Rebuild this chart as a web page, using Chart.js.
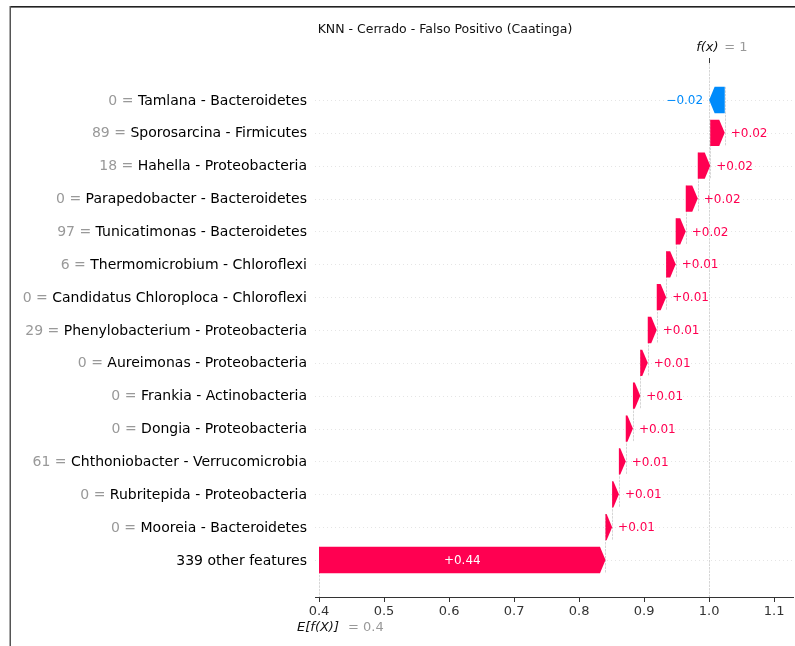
<!DOCTYPE html>
<html>
<head>
<meta charset="utf-8">
<title>KNN - Cerrado - Falso Positivo (Caatinga)</title>
<script src="https://cdn.jsdelivr.net/npm/chart.js@4/dist/chart.umd.min.js"></script>
<style>
  html, body { margin: 0; padding: 0; background: #ffffff; }
  #wrap { width: 795px; height: 646px; position: relative; }
</style>
</head>
<body>
<div id="wrap"><canvas id="c" width="795" height="646"></canvas></div>
<script>
// ---- data ----
const chartTitle = "KNN - Cerrado - Falso Positivo (Caatinga)";
const featureNames = [
  "Tamlana - Bacteroidetes",
  "Sporosarcina - Firmicutes",
  "Hahella - Proteobacteria",
  "Parapedobacter - Bacteroidetes",
  "Tunicatimonas - Bacteroidetes",
  "Thermomicrobium - Chloroflexi",
  "Candidatus Chloroploca - Chloroflexi",
  "Phenylobacterium - Proteobacteria",
  "Aureimonas - Proteobacteria",
  "Frankia - Actinobacteria",
  "Dongia - Proteobacteria",
  "Chthoniobacter - Verrucomicrobia",
  "Rubritepida - Proteobacteria",
  "Mooreia - Bacteroidetes"
];
const featureValues = ["0", "89", "18", "0", "97", "6", "0", "29", "0", "0", "0", "61", "0", "0"];
const shapValues = [-0.024, 0.0223, 0.0192, 0.0185, 0.0154, 0.0147, 0.0145, 0.0138, 0.0115, 0.0113, 0.0110, 0.0106, 0.0104, 0.0102];
const otherLabel = "339 other features";
const otherValue = 0.4406;
const baseValue = 0.4;
const outputValue = 1;
const xTickValues = [0.4, 0.5, 0.6, 0.7, 0.8, 0.9, 1.0, 1.1];

// ---- styling ----
const RED = "#ff0051";
const BLUE = "#008bfb";
const FONT = "'DejaVu Sans', 'Liberation Sans', sans-serif";

// ---- build waterfall rows (top to bottom); the "other" row sits at the bottom ----
const rows = [];
let running = baseValue + otherValue;
const featureRows = [];
for (let i = featureNames.length - 1; i >= 0; i--) {
  const start = running;
  const end = running + shapValues[i];
  featureRows[i] = { name: featureNames[i], fval: featureValues[i], value: shapValues[i], start, end };
  running = end;
}
featureRows.forEach(r => rows.push(r));
rows.push({ name: otherLabel, fval: null, value: otherValue, start: baseValue, end: baseValue + otherValue, other: true });

function fmt(v) {
  return (v >= 0 ? "+" : "\u2212") + Math.abs(v).toFixed(2);
}

function arrowPath(ctx, x0, x1, yc, h, hl) {
  const dir = x1 >= x0 ? 1 : -1;
  const head = Math.min(Math.abs(x1 - x0), hl);
  const neck = x1 - dir * head;
  ctx.beginPath();
  ctx.moveTo(x0, yc - h / 2);
  ctx.lineTo(neck, yc - h / 2);
  ctx.lineTo(x1, yc);
  ctx.lineTo(neck, yc + h / 2);
  ctx.lineTo(x0, yc + h / 2);
  ctx.closePath();
}

const waterfallPlugin = {
  id: "waterfall",
  beforeDatasetsDraw(chart) {
    const { ctx, chartArea: ca, scales } = chart;
    const xs = scales.x, ys = scales.y;
    const els = chart.getDatasetMeta(0).data;
    ctx.save();
    // faint row guides
    ctx.strokeStyle = "#d4d4d4";
    ctx.lineWidth = 0.6;
    ctx.setLineDash([1, 3]);
    rows.forEach((r, i) => {
      const y = Math.round(ys.getPixelForValue(i)) + 0.5;
      ctx.beginPath(); ctx.moveTo(ca.left, y); ctx.lineTo(ca.right, y); ctx.stroke();
    });
    // connectors between consecutive steps
    ctx.strokeStyle = "#bbbbbb";
    ctx.lineWidth = 0.6;
    ctx.setLineDash([2.5, 1]);
    rows.forEach((r, i) => {
      const el = els[i];
      const x = Math.round(xs.getPixelForValue(r.start)) + 0.5;
      const yTop = el.y - el.height / 2;
      const yBot = r.other ? ca.bottom : els[i + 1].y + els[i + 1].height / 2;
      ctx.beginPath(); ctx.moveTo(x, yTop); ctx.lineTo(x, yBot); ctx.stroke();
    });
    // model output line
    const fxPx = Math.round(xs.getPixelForValue(outputValue)) + 0.5;
    ctx.beginPath(); ctx.moveTo(fxPx, ca.top); ctx.lineTo(fxPx, ca.bottom); ctx.stroke();
    ctx.restore();
  },
  afterDatasetsDraw(chart) {
    const { ctx, scales } = chart;
    const xs = scales.x;
    const els = chart.getDatasetMeta(0).data;
    ctx.save();
    rows.forEach((r, i) => {
      const el = els[i];
      const x0 = xs.getPixelForValue(r.start);
      const x1 = xs.getPixelForValue(r.end);
      const yc = el.y, h = el.height;
      ctx.fillStyle = r.value >= 0 ? RED : BLUE;
      arrowPath(ctx, x0, x1, yc, h, 5.5);
      ctx.fill();
      // value annotation
      ctx.font = "12px " + FONT;
      ctx.textBaseline = "middle";
      if (r.other) {
        ctx.fillStyle = "#ffffff";
        ctx.textAlign = "center";
        ctx.fillText(fmt(r.value), (x0 + x1) / 2, yc + 1);
      } else if (r.value >= 0) {
        ctx.fillStyle = RED;
        ctx.textAlign = "left";
        ctx.fillText(fmt(r.value), x1 + 6, yc + 1);
      } else {
        ctx.fillStyle = BLUE;
        ctx.textAlign = "right";
        ctx.fillText(fmt(r.value), x1 - 6, yc + 1);
      }
      // row label
      ctx.font = "14px " + FONT;
      ctx.textAlign = "right";
      const lx = 307;
      ctx.fillStyle = "#000000";
      ctx.fillText(r.name, lx, yc + 1);
      if (r.fval !== null) {
        const w = ctx.measureText(r.name).width;
        ctx.fillStyle = "#999999";
        ctx.fillText(r.fval + " = ", lx - w, yc + 1);
      }
    });
    ctx.restore();
  },
  afterDraw(chart) {
    const { ctx, chartArea: ca, scales } = chart;
    const xs = scales.x;
    ctx.save();
    // title
    ctx.fillStyle = "#111111";
    ctx.font = "12.5px " + FONT;
    ctx.textAlign = "center";
    ctx.textBaseline = "middle";
    ctx.fillText(chartTitle, 445, 30);
    // f(x) marker on top
    const fxPx = xs.getPixelForValue(outputValue);
    ctx.strokeStyle = "#333333";
    ctx.lineWidth = 1;
    ctx.beginPath(); ctx.moveTo(Math.round(fxPx) + 0.5, ca.top - 5); ctx.lineTo(Math.round(fxPx) + 0.5, ca.top); ctx.stroke();
    ctx.textAlign = "left";
    ctx.font = "italic 13px " + FONT;
    ctx.fillStyle = "#111111";
    ctx.fillText("f(x)", fxPx - 13, 48);
    ctx.font = "13px " + FONT;
    ctx.fillStyle = "#999999";
    ctx.fillText("= " + outputValue, fxPx + 15, 48);
    // expected value under the axis
    const bPx = xs.getPixelForValue(baseValue);
    ctx.font = "italic 13px " + FONT;
    ctx.fillStyle = "#111111";
    ctx.fillText("E[f(X)]", bPx - 22, 628);
    ctx.font = "13px " + FONT;
    ctx.fillStyle = "#999999";
    ctx.fillText("= " + baseValue, bPx + 29, 628);
    // frame
    ctx.fillStyle = "#222222";
    ctx.fillRect(10, 6, 785, 1.6);
    ctx.fillStyle = "#555555";
    ctx.fillRect(9.5, 6, 1.5, 640);
    ctx.restore();
  }
};

new Chart(document.getElementById("c"), {
  type: "bar",
  data: {
    datasets: [{
      data: rows.map((r, i) => ({ y: i, x: [r.start, r.end] })),
      backgroundColor: "rgba(0,0,0,0)",
      borderWidth: 0,
      barPercentage: 0.8,
      categoryPercentage: 1
    }]
  },
  options: {
    indexAxis: "y",
    responsive: false,
    animation: false,
    events: [],
    layout: { padding: { left: 315, right: 2, top: 63, bottom: 0 } },
    plugins: { legend: { display: false }, tooltip: { enabled: false }, title: { display: false } },
    scales: {
      x: {
        type: "linear",
        min: 0.3938,
        max: 1.129,
        afterBuildTicks: s => { s.ticks = xTickValues.map(v => ({ value: v })); },
        afterFit: s => { s.height = 49; },
        ticks: {
          callback: v => Number(v).toFixed(1),
          color: "#333333",
          font: { family: FONT, size: 13 },
          padding: 2,
          maxRotation: 0,
          autoSkip: false
        },
        grid: { display: true, drawOnChartArea: false, drawTicks: true, tickLength: 5, color: "#333333", tickWidth: 1 },
        border: { display: true, color: "#333333", width: 1 }
      },
      y: { type: "linear", reverse: true, offset: false, min: -1.126, max: 15.126, display: false }
    }
  },
  plugins: [waterfallPlugin]
});
</script>
</body>
</html>
